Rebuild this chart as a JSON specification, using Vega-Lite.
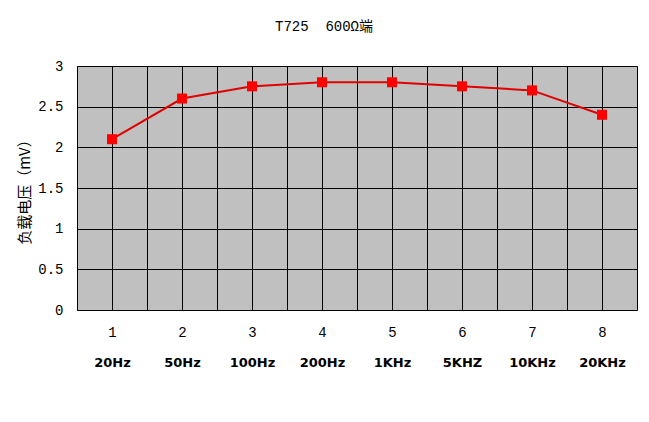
{
  "$schema": "https://vega.github.io/schema/vega-lite/v6.json",
  "width": 560,
  "height": 244,
  "autosize": {"type": "none"},
  "padding": {"left": 77, "top": 66, "right": 12, "bottom": 112},
  "background": "white",
  "title": {"text": "T725\u00a0\u00a0600Ω端", "font": "Liberation Mono, Noto Sans CJK SC", "fontSize": 14, "fontWeight": "normal", "offset": 25, "dx": -33, "color": "black"},
  "config": {"view": {"fill": "#C0C0C0", "stroke": "#808080", "strokeWidth": 1}},
  "data": {"values": [
    {"n": 1, "f": "20Hz", "v": 2.1},
    {"n": 2, "f": "50Hz", "v": 2.6},
    {"n": 3, "f": "100Hz", "v": 2.75},
    {"n": 4, "f": "200Hz", "v": 2.8},
    {"n": 5, "f": "1KHz", "v": 2.8},
    {"n": 6, "f": "5KHZ", "v": 2.75},
    {"n": 7, "f": "10KHz", "v": 2.7},
    {"n": 8, "f": "20KHz", "v": 2.4}
  ]},
  "layer": [
    {
      "mark": {"type": "line", "color": "#E00000", "strokeWidth": 2},
      "encoding": {
        "x": {"field": "n", "type": "quantitative",
          "scale": {"domain": [0.5, 8.5], "nice": false, "zero": false},
          "axis": {"values": [0.5, 1, 1.5, 2, 2.5, 3, 3.5, 4, 4.5, 5, 5.5, 6, 6.5, 7, 7.5, 8, 8.5],
            "format": "~g",
            "labelExpr": "datum.value % 1 == 0 ? datum.label : ''",
            "grid": true, "gridColor": "black", "gridOpacity": 1, "gridWidth": 1,
            "ticks": false, "domain": false, "labelPadding": 15, "labelFontSize": 14,
            "labelFont": "Liberation Mono", "labelColor": "black", "title": null, "labelFlush": false}},
        "y": {"field": "v", "type": "quantitative",
          "scale": {"domain": [0, 3], "nice": false},
          "axis": {"values": [0, 0.5, 1, 1.5, 2, 2.5, 3], "format": "~g",
            "grid": true, "gridColor": "black", "gridOpacity": 1, "gridWidth": 1,
            "ticks": false, "domain": false, "labelPadding": 14, "labelFontSize": 14,
            "labelFont": "Liberation Mono", "labelColor": "black", "labelFlush": false,
            "title": "负载电压（mV）", "titleFont": "Noto Sans CJK SC", "titleFontSize": 15,
            "titleFontWeight": "normal", "titleColor": "black", "titlePadding": 5}}
      }
    },
    {
      "mark": {"type": "square", "size": 100, "color": "#FF0000", "opacity": 1, "filled": true},
      "encoding": {
        "x": {"field": "n", "type": "quantitative",
          "axis": {"orient": "bottom", "values": [1, 2, 3, 4, 5, 6, 7, 8],
            "labelExpr": "['20Hz','50Hz','100Hz','200Hz','1KHz','5KHZ','10KHz','20KHz'][datum.value - 1]",
            "grid": false, "ticks": false, "domain": false, "labelPadding": 46,
            "labelFont": "DejaVu Sans", "labelFontSize": 13, "labelFontWeight": "bold",
            "labelColor": "black", "title": null, "labelFlush": false}},
        "y": {"field": "v", "type": "quantitative"}
      }
    }
  ],
  "resolve": {"axis": {"x": "independent"}}
}
